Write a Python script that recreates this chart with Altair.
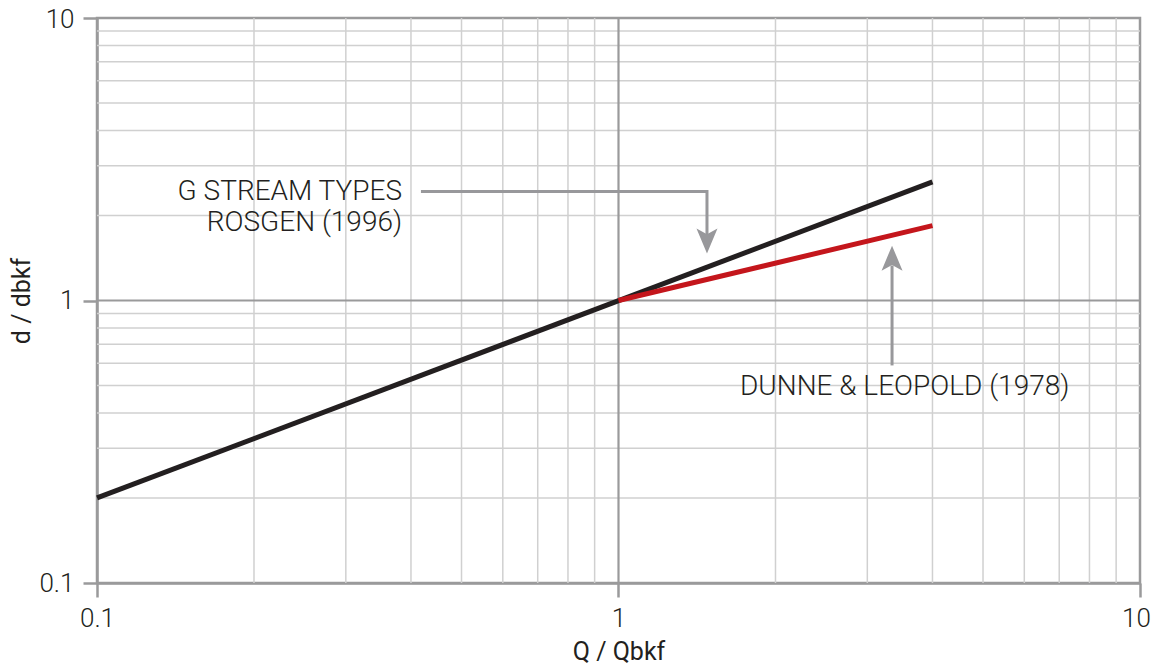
import altair as alt
import pandas as pd

# ---- data ----
black_q = [0.1, 4.0]
black_d = [0.2, 2.63]
red_q = [1.0, 4.0]
red_d = [1.0, 1.84]

minor_vals = [0.2, 0.3, 0.4, 0.5, 0.6, 0.7, 0.8, 0.9, 2, 3, 4, 5, 6, 7, 8, 9]
major_vals = [1]
tick_vals = [0.1, 1, 10]

# annotation geometry (data coordinates)
arrow1_q = [0.418, 1.478, 1.478]
arrow1_d = [2.43, 2.43, 1.62]
arrow1_tip = (1.478, 1.466)
arrow2_q = [3.346, 3.346]
arrow2_d = [0.589, 1.33]
arrow2_tip = (3.346, 1.564)

label_rosgen = ["G STREAM TYPES", "ROSGEN (1996)"]
label_rosgen_q = [0.3846, 0.3846]
label_rosgen_d = [2.275, 1.767]
label_dunne = "DUNNE & LEOPOLD (1978)"
label_dunne_q = 1.71
label_dunne_d = 0.4616

FONT = "Roboto"
GRID_MINOR = "#d0d0d0"
GRID_MAJOR = "#9a9a9b"
ARROW = "#98989b"

xs = alt.Scale(type="log", domain=[0.1, 10], nice=False)
ys = alt.Scale(type="log", domain=[0.1, 10], nice=False)

lines_df = pd.DataFrame({
    "q": black_q + red_q,
    "d": black_d + red_d,
    "series": ["Rosgen"] * len(black_q) + ["Dunne"] * len(red_q),
})

base_x = alt.X("q:Q", scale=xs, title="Q / Qbkf",
               axis=alt.Axis(values=tick_vals, format="~g", grid=False, labelFlush=False,
                             labelOffset={"condition": {"test": "datum.value >= 10", "value": -4},
                                          "value": 0}))
base_y = alt.Y("d:Q", scale=ys, title="d / dbkf",
               axis=alt.Axis(values=tick_vals, format="~g", grid=False, labelFlush=False,
                             labelOffset={"condition": {"test": "datum.value >= 10", "value": 1},
                                          "value": 0}))

minor_df = pd.DataFrame({"v": minor_vals})
major_df = pd.DataFrame({"v": major_vals})

minor_x = alt.Chart(minor_df).mark_rule(color=GRID_MINOR, strokeWidth=1.5).encode(
    x=alt.X("v:Q", scale=xs))
minor_y = alt.Chart(minor_df).mark_rule(color=GRID_MINOR, strokeWidth=1.5).encode(
    y=alt.Y("v:Q", scale=ys))
major_x = alt.Chart(major_df).mark_rule(color=GRID_MAJOR, strokeWidth=2.2).encode(
    x=alt.X("v:Q", scale=xs))
major_y = alt.Chart(major_df).mark_rule(color=GRID_MAJOR, strokeWidth=2.2).encode(
    y=alt.Y("v:Q", scale=ys))

lines = alt.Chart(lines_df).mark_line(strokeWidth=5, strokeCap="butt").encode(
    x=base_x, y=base_y,
    color=alt.Color("series:N", scale=alt.Scale(domain=["Rosgen", "Dunne"],
                                                range=["#231f20", "#c4161c"]), legend=None),
    detail="series:N",
)

a1 = pd.DataFrame({"q": arrow1_q, "d": arrow1_d, "o": list(range(len(arrow1_q)))})
a2 = pd.DataFrame({"q": arrow2_q, "d": arrow2_d, "o": list(range(len(arrow2_q)))})
arrow1 = alt.Chart(a1).mark_line(color=ARROW, strokeWidth=3, strokeCap="butt").encode(
    x=alt.X("q:Q", scale=xs), y=alt.Y("d:Q", scale=ys), order="o:O")
arrow2 = alt.Chart(a2).mark_line(color=ARROW, strokeWidth=3, strokeCap="butt").encode(
    x=alt.X("q:Q", scale=xs), y=alt.Y("d:Q", scale=ys), order="o:O")

head_down = "M0,0 L0.84,-2 L0,-1.55 L-0.84,-2 Z"
head_up = "M0,0 L0.84,2 L0,1.55 L-0.84,2 Z"
h1 = alt.Chart(pd.DataFrame({"q": [arrow1_tip[0]], "d": [arrow1_tip[1]]})).mark_point(
    shape=head_down, filled=True, size=625, color=ARROW, opacity=1).encode(
    x=alt.X("q:Q", scale=xs), y=alt.Y("d:Q", scale=ys))
h2 = alt.Chart(pd.DataFrame({"q": [arrow2_tip[0]], "d": [arrow2_tip[1]]})).mark_point(
    shape=head_up, filled=True, size=625, color=ARROW, opacity=1).encode(
    x=alt.X("q:Q", scale=xs), y=alt.Y("d:Q", scale=ys))

t1_df = pd.DataFrame({"q": label_rosgen_q, "d": label_rosgen_d, "t": label_rosgen})
t1 = alt.Chart(t1_df).mark_text(align="right", baseline="alphabetic", font=FONT,
                                fontWeight=300, fontSize=28, color="#231f20").encode(
    x=alt.X("q:Q", scale=xs), y=alt.Y("d:Q", scale=ys), text="t:N")
t2_df = pd.DataFrame({"q": [label_dunne_q], "d": [label_dunne_d], "t": [label_dunne]})
t2 = alt.Chart(t2_df).mark_text(align="left", baseline="alphabetic", font=FONT,
                                fontWeight=300, fontSize=28, color="#231f20").encode(
    x=alt.X("q:Q", scale=xs), y=alt.Y("d:Q", scale=ys), text="t:N")

chart = alt.layer(minor_x, minor_y, major_x, major_y, lines, arrow1, arrow2, h1, h2, t1, t2).properties(
    width=1043, height=565,
    autosize=alt.AutoSizeParams(type="none"),
    padding={"left": 89, "top": 10, "right": 11, "bottom": 81},
).configure_view(
    stroke=GRID_MAJOR, strokeWidth=2.5
).configure_axis(
    domainColor=GRID_MAJOR, domainWidth=2.5,
    tickColor=GRID_MAJOR, tickWidth=2.5, tickSize=14,
    labelFont=FONT, labelFontWeight=300, labelFontSize=26, labelColor="#231f20",
    titleFont=FONT, titleFontWeight="normal", titleFontSize=25, titleColor="#231f20",
).configure_axisX(
    labelPadding=8, titlePadding=8
).configure_axisY(
    labelPadding=9, titlePadding=4
)

chart.save("out.html", embed_options={"renderer": "svg", "actions": False})
